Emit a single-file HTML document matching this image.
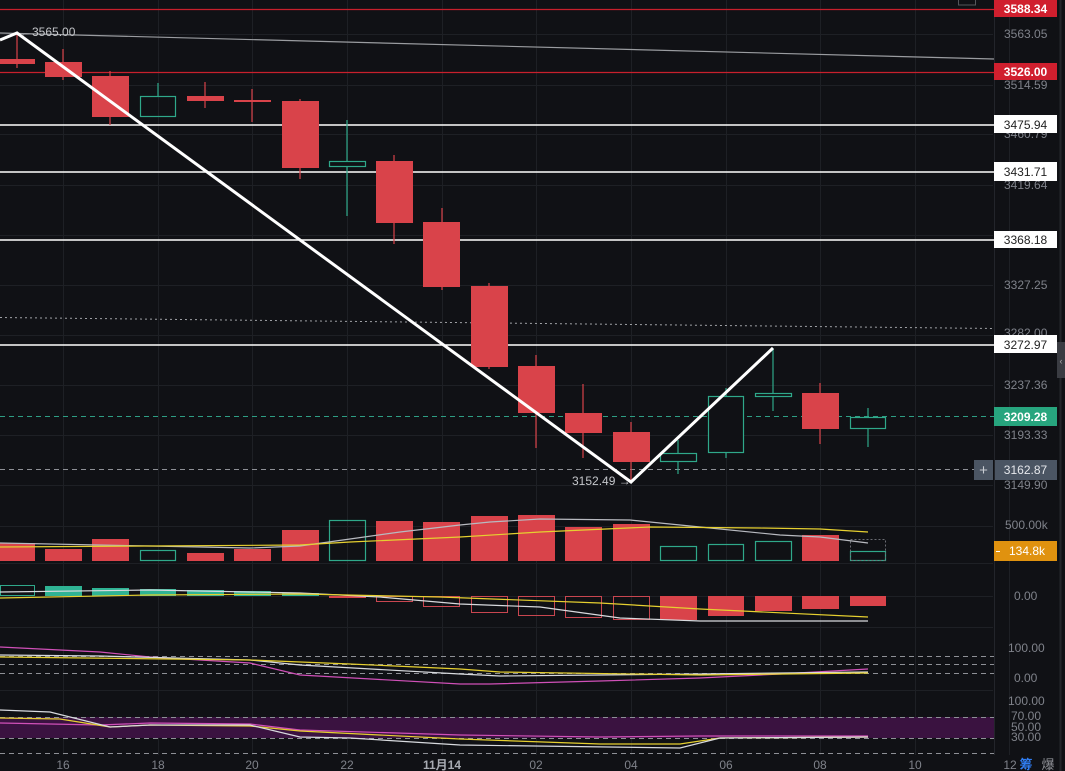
<!DOCTYPE html>
<html><head><meta charset="utf-8"><style>
html,body{margin:0;padding:0;background:#101115;}
svg{display:block;}
text{font-family:"Liberation Sans","Noto Sans CJK SC",sans-serif;}
</style></head><body>
<svg width="1065" height="771" viewBox="0 0 1065 771" xmlns="http://www.w3.org/2000/svg">
<rect x="0" y="0" width="1065" height="771" fill="#101115"/>
<!-- grid -->
<g stroke="#1e2025" stroke-width="1">
<line x1="63.5" y1="0" x2="63.5" y2="755"/><line x1="158.5" y1="0" x2="158.5" y2="755"/><line x1="252.5" y1="0" x2="252.5" y2="755"/><line x1="347.5" y1="0" x2="347.5" y2="755"/><line x1="442.5" y1="0" x2="442.5" y2="755"/><line x1="536.5" y1="0" x2="536.5" y2="755"/><line x1="631.5" y1="0" x2="631.5" y2="755"/><line x1="726.5" y1="0" x2="726.5" y2="755"/><line x1="820.5" y1="0" x2="820.5" y2="755"/><line x1="915.5" y1="0" x2="915.5" y2="755"/><line x1="1009.5" y1="0" x2="1009.5" y2="755"/>
<line x1="0" y1="34.5" x2="993" y2="34.5"/><line x1="0" y1="85.5" x2="993" y2="85.5"/><line x1="0" y1="134.5" x2="993" y2="134.5"/><line x1="0" y1="185.5" x2="993" y2="185.5"/><line x1="0" y1="235.5" x2="993" y2="235.5"/><line x1="0" y1="285.5" x2="993" y2="285.5"/><line x1="0" y1="335.5" x2="993" y2="335.5"/><line x1="0" y1="385.5" x2="993" y2="385.5"/><line x1="0" y1="435.5" x2="993" y2="435.5"/><line x1="0" y1="485.5" x2="993" y2="485.5"/>
<line x1="0" y1="526.5" x2="993" y2="526.5"/><line x1="0" y1="563.5" x2="993" y2="563.5"/><line x1="0" y1="596.5" x2="993" y2="596.5"/><line x1="0" y1="627.5" x2="993" y2="627.5"/><line x1="0" y1="690.5" x2="993" y2="690.5"/>
</g>
<line x1="994.5" y1="0" x2="994.5" y2="755" stroke="#23252b"/>
<line x1="1060.5" y1="0" x2="1060.5" y2="771" stroke="#24262b" stroke-width="2"/>

<!-- horizontal drawn lines -->
<line x1="0" y1="9.5" x2="994" y2="9.5" stroke="#c8202c" stroke-width="1.2"/>
<line x1="0" y1="72.5" x2="994" y2="72.5" stroke="#c8202c" stroke-width="1.2"/>
<line x1="0" y1="33" x2="994" y2="59" stroke="#9a9ca0" stroke-width="1.2"/>
<g stroke="#ffffff" stroke-width="1.5">
<line x1="0" y1="125" x2="994" y2="125"/><line x1="0" y1="172" x2="994" y2="172"/><line x1="0" y1="240" x2="994" y2="240"/><line x1="0" y1="345" x2="994" y2="345"/>
</g>
<line x1="0" y1="317.5" x2="994" y2="328.5" stroke="#a0a2a6" stroke-width="1" stroke-dasharray="2,3"/>
<line x1="0" y1="416.5" x2="994" y2="416.5" stroke="#2e9e84" stroke-width="1" stroke-dasharray="5,4"/>
<line x1="0" y1="469.5" x2="975" y2="469.5" stroke="#8e9096" stroke-width="1" stroke-dasharray="5,4"/>

<!-- candles -->
<g stroke="#d9434a" stroke-width="1.2">
<line x1="17" y1="33" x2="17" y2="68"/><line x1="63" y1="49" x2="63" y2="80"/><line x1="110" y1="71" x2="110" y2="125"/><line x1="205" y1="82" x2="205" y2="108"/><line x1="252" y1="89" x2="252" y2="122"/><line x1="300" y1="99" x2="300" y2="179"/><line x1="394" y1="155" x2="394" y2="244"/><line x1="442" y1="208" x2="442" y2="290"/><line x1="489" y1="283" x2="489" y2="369"/><line x1="536" y1="355" x2="536" y2="448"/><line x1="583" y1="384" x2="583" y2="458"/><line x1="631" y1="422" x2="631" y2="482"/><line x1="820" y1="383" x2="820" y2="444"/>
</g>
<g fill="#d9434a">
<rect x="0" y="59" width="35" height="5"/><rect x="45" y="62" width="37" height="15"/><rect x="92" y="76" width="37" height="41"/><rect x="187" y="96" width="37" height="5"/><rect x="234" y="100" width="37" height="2"/><rect x="282" y="101" width="37" height="67"/><rect x="376" y="161" width="37" height="62"/><rect x="423" y="222" width="37" height="65"/><rect x="471" y="286" width="37" height="81"/><rect x="518" y="366" width="37" height="47"/><rect x="565" y="413" width="37" height="20"/><rect x="613" y="432" width="37" height="30"/><rect x="802" y="393" width="37" height="36"/>
</g>
<g stroke="#2fa88a" stroke-width="1.2" fill="none">
<line x1="158" y1="83" x2="158" y2="96"/><rect x="140.5" y="96.5" width="35" height="20"/>
<line x1="347" y1="120" x2="347" y2="216"/><rect x="329.5" y="161.5" width="36" height="5" fill="#101115"/>
<line x1="678" y1="440" x2="678" y2="474"/><rect x="660.5" y="453.5" width="36" height="8" fill="#101115"/>
<line x1="726" y1="388" x2="726" y2="458"/><rect x="708.5" y="396.5" width="35" height="56" fill="#101115"/>
<line x1="773" y1="348" x2="773" y2="411"/><rect x="755.5" y="393.5" width="36" height="3" fill="#101115"/>
<line x1="868" y1="408" x2="868" y2="447"/><rect x="850.5" y="417.5" width="35" height="11" fill="#101115"/>
</g>

<!-- zigzag -->
<polyline points="0,40 17,33 631,482 773,348" fill="none" stroke="#ffffff" stroke-width="3" stroke-linejoin="miter"/>
<text x="20" y="36" font-size="11" fill="#8e9096">←</text>
<text x="32" y="36" font-size="12" fill="#c4c6ca">3565.00</text>
<text x="572" y="485" font-size="12" fill="#c4c6ca">3152.49 →</text>

<!-- volume -->
<g fill="#d9434a">
<rect x="0" y="543" width="35" height="18"/><rect x="45" y="549" width="37" height="12"/><rect x="92" y="539" width="37" height="22"/><rect x="187" y="553" width="37" height="8"/><rect x="234" y="549" width="37" height="12"/><rect x="282" y="530" width="37" height="31"/><rect x="376" y="521" width="37" height="40"/><rect x="423" y="522" width="37" height="39"/><rect x="471" y="516" width="37" height="45"/><rect x="518" y="515" width="37" height="46"/><rect x="565" y="527" width="37" height="34"/><rect x="613" y="524" width="37" height="37"/><rect x="802" y="535" width="37" height="26"/>
</g>
<g fill="none" stroke="#2fa88a" stroke-width="1.2">
<rect x="140.5" y="550.5" width="35" height="10"/><rect x="329.5" y="520.5" width="36" height="40"/><rect x="660.5" y="546.5" width="36" height="14"/><rect x="708.5" y="544.5" width="35" height="16"/><rect x="755.5" y="541.5" width="36" height="19"/><rect x="850.5" y="551.5" width="35" height="9"/>
</g>
<rect x="850.5" y="539.5" width="35" height="21" fill="none" stroke="#6a6c72" stroke-dasharray="2,2"/>
<polyline points="0,543 150,546 250,548 300,546 350,539 400,532 460,525 490,522 540,519 630,520 700,527 780,535 820,537 868,543" fill="none" stroke="#b8bac0" stroke-width="1.2"/>
<polyline points="0,547 150,546 300,545 350,542 460,537 540,532 650,527 760,528 820,529 868,532" fill="none" stroke="#e6d030" stroke-width="1.2"/>

<!-- MACD -->
<g fill="#2fb394">
<rect x="45" y="586" width="37" height="10"/><rect x="92" y="588" width="37" height="8"/><rect x="140" y="589" width="36" height="7"/><rect x="187" y="590" width="37" height="6"/><rect x="234" y="591" width="37" height="5"/><rect x="282" y="593" width="37" height="3"/>
</g>
<rect x="0.5" y="585.5" width="34" height="10" fill="none" stroke="#2fa88a"/>
<g fill="#d9434a">
<rect x="329" y="596" width="37" height="2"/><rect x="660" y="596" width="37" height="24"/><rect x="708" y="596" width="36" height="20"/><rect x="755" y="596" width="37" height="15"/><rect x="802" y="596" width="37" height="13"/><rect x="850" y="596" width="36" height="10"/>
</g>
<g fill="none" stroke="#c94650" stroke-width="1">
<rect x="376.5" y="596.5" width="36" height="5"/><rect x="423.5" y="596.5" width="36" height="10"/><rect x="471.5" y="596.5" width="36" height="16"/><rect x="518.5" y="596.5" width="36" height="19"/><rect x="565.5" y="596.5" width="36" height="21"/><rect x="613.5" y="596.5" width="36" height="23"/>
</g>
<polyline points="0,592 150,590 300,593 380,597 460,604 540,607 620,618 700,621 868,621" fill="none" stroke="#d8dade" stroke-width="1.2"/>
<polyline points="0,598 150,595 300,594 440,597 600,603 700,609 868,617" fill="none" stroke="#e6d030" stroke-width="1.2"/>

<!-- RSI panel -->
<g stroke="#8e9096" stroke-width="1" stroke-dasharray="5,4">
<line x1="0" y1="656.5" x2="994" y2="656.5"/><line x1="0" y1="664.5" x2="994" y2="664.5"/><line x1="0" y1="673.5" x2="994" y2="673.5"/>
</g>
<polyline points="0,647 100,652 150,657 250,663 300,675 460,684 490,684 600,681 700,678 780,674 868,669" fill="none" stroke="#d050b8" stroke-width="1.2"/>
<polyline points="0,655 100,656 250,660 300,665 460,674 500,676 600,675 700,674 868,672" fill="none" stroke="#d8dade" stroke-width="1.2"/>
<polyline points="0,657 250,660 350,664 460,669 500,672 700,675 868,673" fill="none" stroke="#e6d030" stroke-width="1.2"/>

<!-- bottom panel -->
<rect x="0" y="717" width="994" height="21" fill="#3a1240"/>
<g stroke="#8e9096" stroke-width="1" stroke-dasharray="5,4">
<line x1="0" y1="717.5" x2="994" y2="717.5"/><line x1="0" y1="738.5" x2="994" y2="738.5"/><line x1="0" y1="753.5" x2="994" y2="753.5"/>
</g>
<polyline points="0,723 100,725 150,723 250,724 300,730 460,735 600,737 700,736 868,736" fill="none" stroke="#d050b8" stroke-width="1.2"/>
<polyline points="0,718 60,719 110,727 150,725 250,726 300,731 460,739 600,744 680,744 720,738 868,737" fill="none" stroke="#e6d030" stroke-width="1.2"/>
<polyline points="0,710 50,712 110,727 150,725 250,725 300,737 350,738 460,745 680,748 720,738 868,737" fill="none" stroke="#d8dade" stroke-width="1.2"/>

<!-- price axis labels -->
<g font-size="12" fill="#7f828a">
<text x="1004" y="38">3563.05</text><text x="1004" y="89">3514.59</text><text x="1004" y="138">3460.79</text><text x="1004" y="189">3419.64</text><text x="1004" y="289">3327.25</text><text x="1004" y="337">3282.00</text><text x="1004" y="389">3237.36</text><text x="1004" y="439">3193.33</text><text x="1004" y="489">3149.90</text>
<text x="1005" y="529">500.00k</text><text x="1014" y="600">0.00</text>
<text x="1008" y="652">100.00</text><text x="1014" y="682">0.00</text>
<text x="1008" y="705">100.00</text><text x="1011" y="720">70.00</text><text x="1011" y="731">50.00</text><text x="1011" y="741">30.00</text>
</g>
<!-- price boxes -->
<rect x="994" y="0" width="63" height="17" fill="#d01f2e"/><text x="1025.5" y="13" font-size="12" fill="#fff" text-anchor="middle" font-weight="bold">3588.34</text>
<rect x="994" y="63" width="63" height="17" fill="#d01f2e"/><text x="1025.5" y="76" font-size="12" fill="#fff" text-anchor="middle" font-weight="bold">3526.00</text>
<g fill="#ffffff"><rect x="994" y="115" width="63" height="18"/><rect x="994" y="162" width="63" height="19"/><rect x="994" y="231" width="63" height="17"/><rect x="994" y="335" width="63" height="18"/></g>
<g font-size="12" fill="#222" text-anchor="middle">
<text x="1025.5" y="129">3475.94</text><text x="1025.5" y="176">3431.71</text><text x="1025.5" y="244">3368.18</text><text x="1025.5" y="349">3272.97</text>
</g>
<rect x="994" y="407" width="63" height="19" fill="#27a57e"/><text x="1025.5" y="421" font-size="12" fill="#fff" text-anchor="middle" font-weight="bold">3209.28</text>
<rect x="974" y="460" width="19" height="20" fill="#4b5563"/><text x="983.5" y="475" font-size="15" fill="#c8ccd2" text-anchor="middle">+</text>
<rect x="995" y="460" width="62" height="20" fill="#4b5563"/><text x="1025.5" y="474" font-size="12" fill="#e6e8ec" text-anchor="middle">3162.87</text>
<rect x="994" y="541" width="63" height="20" fill="#e0920f"/><text x="1027" y="555" font-size="12" fill="#fff" text-anchor="middle">134.8k</text>
<line x1="996" y1="551.5" x2="1000" y2="551.5" stroke="#fff"/>
<rect x="1057" y="342" width="8" height="36" fill="#3a3c42"/><text x="1061" y="364" font-size="9" fill="#aaa" text-anchor="middle">‹</text>
<rect x="958.5" y="-2" width="17" height="7" fill="none" stroke="#55575c"/>

<!-- x labels -->
<g font-size="12" fill="#7f828a" text-anchor="middle">
<text x="63" y="769">16</text><text x="158" y="769">18</text><text x="252" y="769">20</text><text x="347" y="769">22</text><text x="536" y="769">02</text><text x="631" y="769">04</text><text x="726" y="769">06</text><text x="820" y="769">08</text><text x="915" y="769">10</text><text x="1010" y="769">12</text>
</g>
<text x="442" y="769" font-size="12" fill="#a8abb2" text-anchor="middle" font-weight="bold">11月14</text>
<text x="1026" y="769" font-size="13" fill="#2f7cf0" text-anchor="middle" font-weight="bold">筹</text>
<text x="1048" y="769" font-size="13" fill="#8e9096" text-anchor="middle">爆</text>
</svg>
</body></html>
